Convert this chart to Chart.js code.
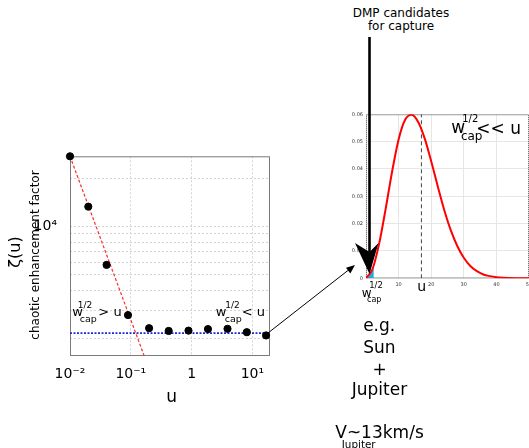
<!DOCTYPE html>
<html>
<head>
<meta charset="utf-8">
<script src="https://cdn.jsdelivr.net/npm/chart.js@4.4.1/dist/chart.umd.min.js"></script>
<style>
html, body { margin: 0; padding: 0; overflow: hidden; background: #fff; }
body { width: 529px; height: 448px; position: relative; font-family: "DejaVu Sans", sans-serif; color: #000; }
canvas { position: absolute; }
#zetaChart { left: 0; top: 140px; }
#speedChart { left: 330px; top: 100px; }
.t { position: absolute; white-space: nowrap; line-height: 1; transform: translate(-50%, -50%); }
.rot { transform: translate(-50%, -50%) rotate(-90deg); }
svg { position: absolute; left: 0; top: 0; }
</style>
</head>
<body>
<canvas id="zetaChart" width="290" height="280"></canvas>
<canvas id="speedChart" width="210" height="200"></canvas>

<!-- left plot titles -->
<div class="t rot" style="left:15px; top:252px; font-size:16px;">ζ(u)</div>
<div class="t rot" style="left:35px; top:255px; font-size:12px;">chaotic enhancement factor</div>
<div class="t" style="left:171.7px; top:395.5px; font-size:17px;">u</div>

<!-- left plot annotations -->
<div class="t" style="left:77.5px; top:311px; font-size:13px;">w</div>
<div class="t" style="left:85px; top:304.5px; font-size:9px;">1/2</div>
<div class="t" style="left:88.3px; top:318.5px; font-size:9.5px;">cap</div>
<div class="t" style="left:110px; top:311px; font-size:13px;">&gt; u</div>
<div class="t" style="left:221px; top:311px; font-size:13px;">w</div>
<div class="t" style="left:232.5px; top:304.5px; font-size:9px;">1/2</div>
<div class="t" style="left:233.3px; top:318.5px; font-size:9.5px;">cap</div>
<div class="t" style="left:253.3px; top:311px; font-size:13px;">&lt; u</div>

<!-- right plot annotations -->
<div class="t" style="left:401px; top:12.5px; font-size:12px;">DMP candidates</div>
<div class="t" style="left:401px; top:26.3px; font-size:12px;">for capture</div>
<div class="t" style="left:458.3px; top:127px; font-size:17px;">w</div>
<div class="t" style="left:470.3px; top:119px; font-size:10px;">1/2</div>
<div class="t" style="left:471.7px; top:136.3px; font-size:12px;">cap</div>
<div class="t" style="left:498.7px; top:127.5px; font-size:17px;">&lt;&lt; u</div>
<div class="t" style="left:376px; top:285px; font-size:8.5px;">1/2</div>
<div class="t" style="left:366.7px; top:293px; font-size:12px;">w</div>
<div class="t" style="left:374.2px; top:299.5px; font-size:8px;">cap</div>
<div class="t" style="left:421.7px; top:286px; font-size:14px;">u</div>

<div class="t" style="left:379.2px; top:324.8px; font-size:17px;">e.g.</div>
<div class="t" style="left:379.3px; top:346.7px; font-size:17px;">Sun</div>
<div class="t" style="left:379.5px; top:368.5px; font-size:17px;">+</div>
<div class="t" style="left:379.5px; top:389px; font-size:17px;">Jupiter</div>
<div class="t" style="left:379.5px; top:432.2px; font-size:17px;">V~13km/s</div>
<div class="t" style="left:358.7px; top:443.8px; font-size:10.4px;">Jupiter</div>

<svg width="529" height="448">
  <line x1="268" y1="333" x2="348.5" y2="270" stroke="#000" stroke-width="1"/>
  <polygon points="355,265 350.3,273.4 346,267.8" fill="#000"/>
  <line x1="369.5" y1="37" x2="369.5" y2="254" stroke="#000" stroke-width="2.6"/>
  <polygon points="369.5,274 355,243 369.5,252 378.5,243" fill="#000"/>
</svg>

<script>
// left panel: enhancement factor vs u (log-log)
const uVals = [0.01, 0.02, 0.04, 0.09, 0.2, 0.42, 0.89, 1.86, 3.9, 8.1, 16.8];
const zetaVals = [27400, 13300, 5760, 2800, 2320, 2230, 2240, 2290, 2300, 2190, 2090];
const fitU = [0.01, 0.2];
const fitZeta = [27400, 1290];
const plateauZeta = 2160;
const uRange = [0.01, 19.5];
const zetaRange = [1556, 27400];
const uTicks = [0.01, 0.1, 1, 10];
const uTickText = ['10⁻²', '10⁻¹', '1', '10¹'];
const zetaGrid = [2000, 3000, 4000, 5000, 6000, 7000, 8000, 9000, 10000, 20000];

// right panel: velocity distribution
const speed = [0, 2, 4, 6, 8, 10, 12, 14, 16, 18, 20, 22, 24, 26, 28, 30, 32, 34, 36, 38, 40, 42, 44, 46, 48, 50];
const density = [0, 0.0034, 0.0125, 0.0252, 0.0390, 0.0508, 0.0580, 0.0598, 0.0572, 0.0512, 0.0428, 0.0337, 0.0250,
                 0.0176, 0.0118, 0.0075, 0.0045, 0.0026, 0.0014, 0.0008, 0.0004, 0.0002, 0.0001, 0.00004, 0.00002, 0.00001];
const capSpeed = [0, 1, 2, 2.4];
const capDensity = [0, 0.0008, 0.0032, 0.0046];
const uMark = 17;

const framePlugin = {
    id: 'frame',
    beforeDatasetsDraw(chart, args, opts)
    {
        const a = chart.chartArea;
        const ctx = chart.ctx;
        ctx.save();
        ctx.strokeStyle = opts.color;
        ctx.lineWidth = opts.width;
        ctx.setLineDash(opts.dash || []);
        ctx.strokeRect(a.left + 0.5, a.top + 0.5, a.right - a.left - 1, a.bottom - a.top - 1);
        ctx.restore();
    }
};

const pts = (xs, ys) => xs.map((x, i) => ({ x: x, y: ys[i] }));

// fixed axis boxes so the plot area lands where the figure has it
const fixBox = (w, h) => s =>
{
    if (w !== null) s.width = w;
    if (h !== null) s.height = h;
    s.paddingTop = s.paddingBottom = s.paddingLeft = s.paddingRight = 0;
};

new Chart(document.getElementById('zetaChart'), {
    type: 'scatter',
    data: {
        datasets: [
            {
                label: 'ζ(u)',
                data: pts(uVals, zetaVals),
                backgroundColor: '#000',
                borderColor: '#000',
                pointRadius: 3.6,
                clip: false
            },
            {
                label: 'fit',
                data: pts(fitU, fitZeta),
                showLine: true,
                borderColor: '#ff2a2a',
                borderWidth: 1.2,
                borderDash: [3, 2],
                pointRadius: 0,
                clip: 0
            },
            {
                label: 'plateau',
                data: pts(uRange, [plateauZeta, plateauZeta]),
                showLine: true,
                borderColor: '#1c2bd6',
                borderWidth: 1.6,
                borderDash: [2, 1.5],
                pointRadius: 0
            }
        ]
    },
    plugins: [framePlugin],
    options: {
        responsive: false,
        animation: false,
        layout: { padding: { left: 0, top: 16.3, right: 20, bottom: 0 } },
        plugins: {
            legend: { display: false },
            tooltip: { enabled: false },
            frame: { color: '#7a7a7a', width: 1, dash: [] }
        },
        scales: {
            x: {
                type: 'logarithmic',
                min: uRange[0],
                max: uRange[1],
                afterBuildTicks: s => { s.ticks = uTicks.map(v => ({ value: v })); },
                afterFit: fixBox(null, 64),
                ticks: {
                    autoSkip: false,
                    maxRotation: 0,
                    padding: 10,
                    color: '#000',
                    font: { family: 'DejaVu Sans', size: 14 },
                    callback: (v, i) => uTickText[i]
                },
                grid: { color: '#d2d2d2', drawTicks: false },
                border: { display: false, dash: [2, 2] }
            },
            y: {
                type: 'logarithmic',
                min: zetaRange[0],
                max: zetaRange[1],
                afterBuildTicks: s => { s.ticks = zetaGrid.map(v => ({ value: v })); },
                afterFit: fixBox(70, null),
                ticks: {
                    autoSkip: false,
                    padding: 13,
                    color: '#000',
                    font: { family: 'DejaVu Sans', size: 14 },
                    callback: v => (v === 10000 ? '10⁴' : '')
                },
                grid: { color: '#d2d2d2', drawTicks: false },
                border: { display: false, dash: [2, 2] }
            }
        }
    }
});

new Chart(document.getElementById('speedChart'), {
    type: 'scatter',
    data: {
        datasets: [
            {
                label: 'f(v)',
                data: pts(speed, density),
                showLine: true,
                borderColor: '#ff0000',
                borderWidth: 2,
                pointRadius: 0,
                cubicInterpolationMode: 'monotone'
            },
            {
                label: 'captured',
                data: pts(capSpeed, capDensity),
                showLine: true,
                fill: 'origin',
                backgroundColor: '#2aa7df',
                borderWidth: 0,
                pointRadius: 0
            },
            {
                label: 'u',
                data: pts([uMark, uMark], [0, 0.06]),
                showLine: true,
                borderColor: '#444',
                borderWidth: 1,
                borderDash: [4, 3],
                pointRadius: 0
            }
        ]
    },
    plugins: [framePlugin],
    options: {
        responsive: false,
        animation: false,
        layout: { padding: { left: 0, top: 14.3, right: 11, bottom: 0 } },
        plugins: {
            legend: { display: false },
            tooltip: { enabled: false },
            frame: { color: '#555', width: 1, dash: [1, 1] }
        },
        scales: {
            x: {
                type: 'linear',
                min: 0,
                max: 50,
                afterFit: fixBox(null, 21.7),
                ticks: {
                    stepSize: 10,
                    maxRotation: 0,
                    padding: 3,
                    color: '#333',
                    font: { family: 'DejaVu Sans', size: 5 },
                    callback: v => (v === 0 ? '' : v)
                },
                grid: { color: '#e6e6e6', drawTicks: false },
                border: { display: false }
            },
            y: {
                min: 0,
                max: 0.06,
                afterFit: fixBox(36, null),
                ticks: {
                    stepSize: 0.01,
                    padding: 3,
                    color: '#333',
                    font: { family: 'DejaVu Sans', size: 5 }
                },
                grid: { color: '#e6e6e6', drawTicks: false },
                border: { display: false }
            }
        }
    }
});
</script>
</body>
</html>
